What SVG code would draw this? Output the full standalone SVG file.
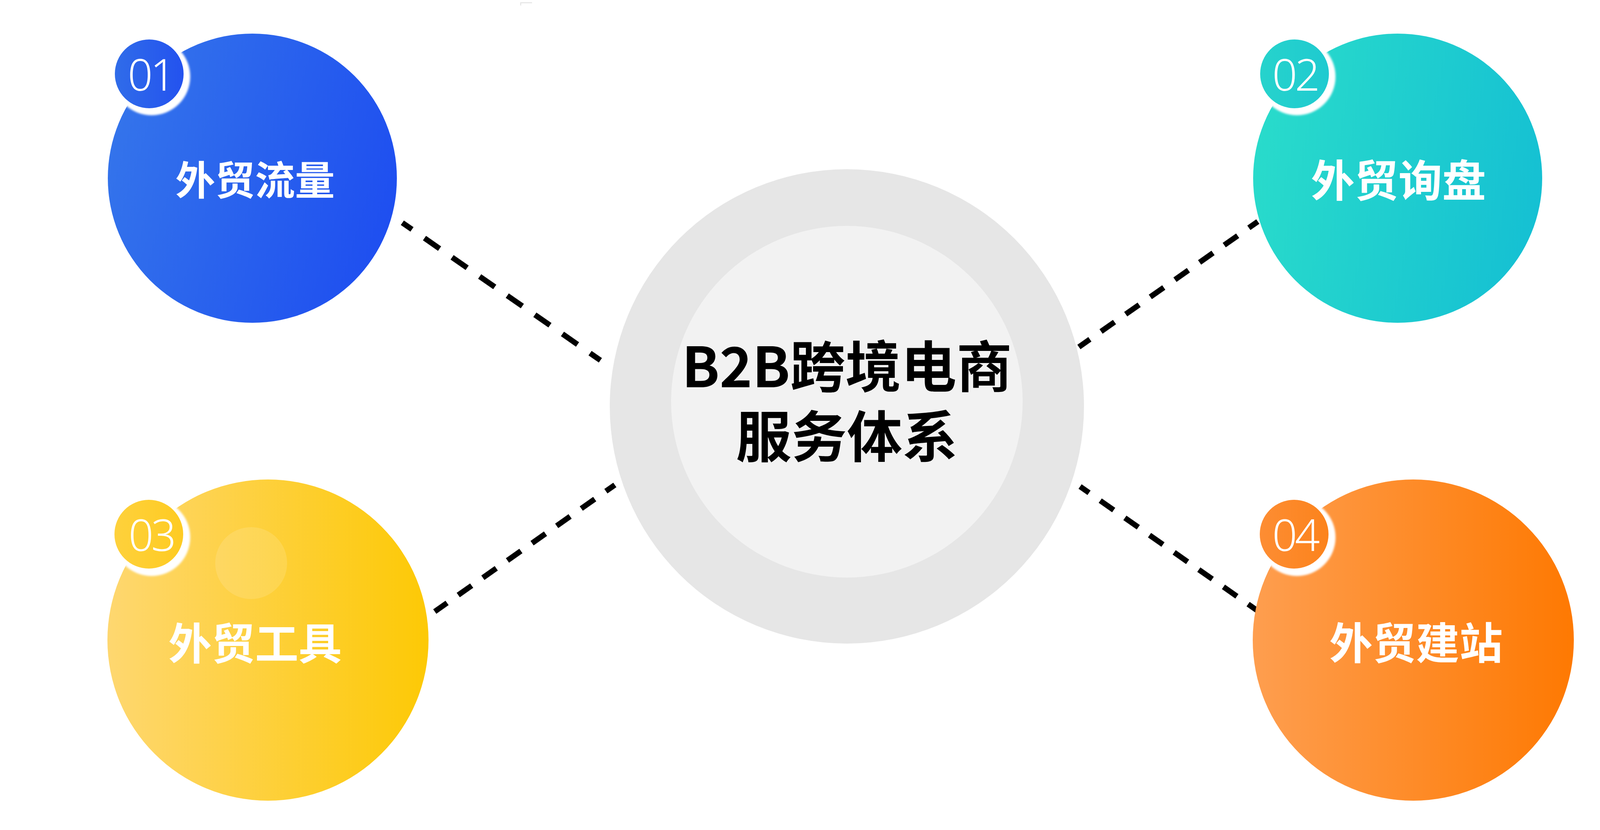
<svg xmlns="http://www.w3.org/2000/svg" width="4236" height="2124" viewBox="0 0 4236 2124">
  <defs>
    <linearGradient id="gBlue" x1="0" y1="0.35" x2="1" y2="0.65">
      <stop offset="0" stop-color="#3474eb"/>
      <stop offset="1" stop-color="#1e4ef0"/>
    </linearGradient>
    <linearGradient id="gTeal" x1="0" y1="0.4" x2="1" y2="0.6">
      <stop offset="0" stop-color="#29dbcb"/>
      <stop offset="1" stop-color="#15c0d3"/>
    </linearGradient>
    <linearGradient id="gYellow" x1="0" y1="0.5" x2="1" y2="0.5">
      <stop offset="0" stop-color="#fed770"/>
      <stop offset="1" stop-color="#fdc905"/>
    </linearGradient>
    <linearGradient id="gOrange" x1="0" y1="0.5" x2="1" y2="0.5">
      <stop offset="0" stop-color="#fe9e4f"/>
      <stop offset="1" stop-color="#fe7902"/>
    </linearGradient>
    <linearGradient id="bBlue" x1="0" y1="0.5" x2="1" y2="0.5">
      <stop offset="0" stop-color="#306ce9"/>
      <stop offset="1" stop-color="#2352ef"/>
    </linearGradient>
    <linearGradient id="bTeal" x1="0" y1="0.5" x2="1" y2="0.5">
      <stop offset="0" stop-color="#26d3cc"/>
      <stop offset="1" stop-color="#1fcad0"/>
    </linearGradient>
    <linearGradient id="bYellow" x1="0" y1="0.5" x2="1" y2="0.5">
      <stop offset="0" stop-color="#fed13c"/>
      <stop offset="1" stop-color="#fecb22"/>
    </linearGradient>
    <linearGradient id="bOrange" x1="0" y1="0.5" x2="1" y2="0.5">
      <stop offset="0" stop-color="#fd8d33"/>
      <stop offset="1" stop-color="#fc831c"/>
    </linearGradient>
    <filter id="soft" x="-20%" y="-20%" width="140%" height="140%">
      <feGaussianBlur stdDeviation="2.5"/>
    </filter>
  </defs>
  <style>
    .lbl { font-family: "Noto Sans CJK SC", "Noto Sans", sans-serif; font-weight: 700; fill: #ffffff; text-anchor: middle; }
    .num { font-family: "Noto Sans", "Roboto", sans-serif; font-weight: 300; fill: #ffffff; text-anchor: middle; font-size: 112px; letter-spacing: -6px; }
    .title { font-family: "Noto Sans CJK SC", "Noto Sans", sans-serif; font-weight: 700; fill: #000000; text-anchor: middle; font-size: 142px; }
    .dash { fill: none; stroke: #000000; stroke-width: 14; }
    .d1 { stroke-dasharray: 47 39; stroke-dashoffset: 17; }
    .d2 { stroke-dasharray: 42 35; stroke-dashoffset: 14; }
    .ring { fill: #ffffff; filter: url(#soft); }
  </style>
  <rect width="4236" height="2124" fill="#ffffff"/>
  <path d="M1333 14 V7 H1362" fill="none" stroke="#e4e4e4" stroke-width="2.5"/>

  <g id="connectors">
    <line class="dash d1" x1="1030" y1="570" x2="1537" y2="922"/>
    <line class="dash d2" x1="3220" y1="567" x2="2762" y2="888"/>
    <line class="dash d2" x1="1574" y1="1241" x2="1113" y2="1565"/>
    <line class="dash d2" x1="2765" y1="1245" x2="3218" y2="1562"/>
  </g>

  <g id="center">
    <circle cx="2168" cy="1040" r="607" fill="#e6e6e6"/>
    <circle cx="2168" cy="1028" r="450" fill="#f2f2f2"/>
    <text class="title"><tspan x="2168" y="991">B2B跨境电商</tspan><tspan x="2168" y="1170">服务体系</tspan></text>
  </g>

  <g id="node-01">
    <circle cx="646" cy="456" r="370" fill="url(#gBlue)"/>
    <circle class="ring" cx="388" cy="196" r="99"/>
    <circle cx="382" cy="189" r="88" fill="url(#bBlue)"/>
    <text class="num" x="385" y="232">01</text>
    <text class="lbl" x="653" y="499" font-size="102">外贸流量</text>
  </g>

  <g id="node-02">
    <circle cx="3578" cy="456" r="370" fill="url(#gTeal)"/>
    <circle class="ring" cx="3320" cy="196" r="99"/>
    <circle cx="3314" cy="189" r="88" fill="url(#bTeal)"/>
    <text class="num" x="3315" y="232">02</text>
    <text class="lbl" x="3580" y="504" font-size="112">外贸询盘</text>
  </g>

  <g id="node-03">
    <circle cx="686" cy="1638" r="411" fill="url(#gYellow)"/>
    <circle cx="643" cy="1441" r="92" fill="#ffffff" fill-opacity="0.13"/>
    <circle class="ring" cx="388" cy="1375" r="99"/>
    <circle cx="381" cy="1367" r="88" fill="url(#bYellow)"/>
    <text class="num" x="387" y="1410">03</text>
    <text class="lbl" x="653" y="1688" font-size="111">外贸工具</text>
  </g>

  <g id="node-04">
    <circle cx="3618" cy="1638" r="411" fill="url(#gOrange)"/>
    <circle class="ring" cx="3320" cy="1375" r="99"/>
    <circle cx="3313" cy="1367" r="88" fill="url(#bOrange)"/>
    <text class="num" x="3315" y="1410">04</text>
    <text class="lbl" x="3625" y="1687" font-size="111">外贸建站</text>
  </g>
</svg>
